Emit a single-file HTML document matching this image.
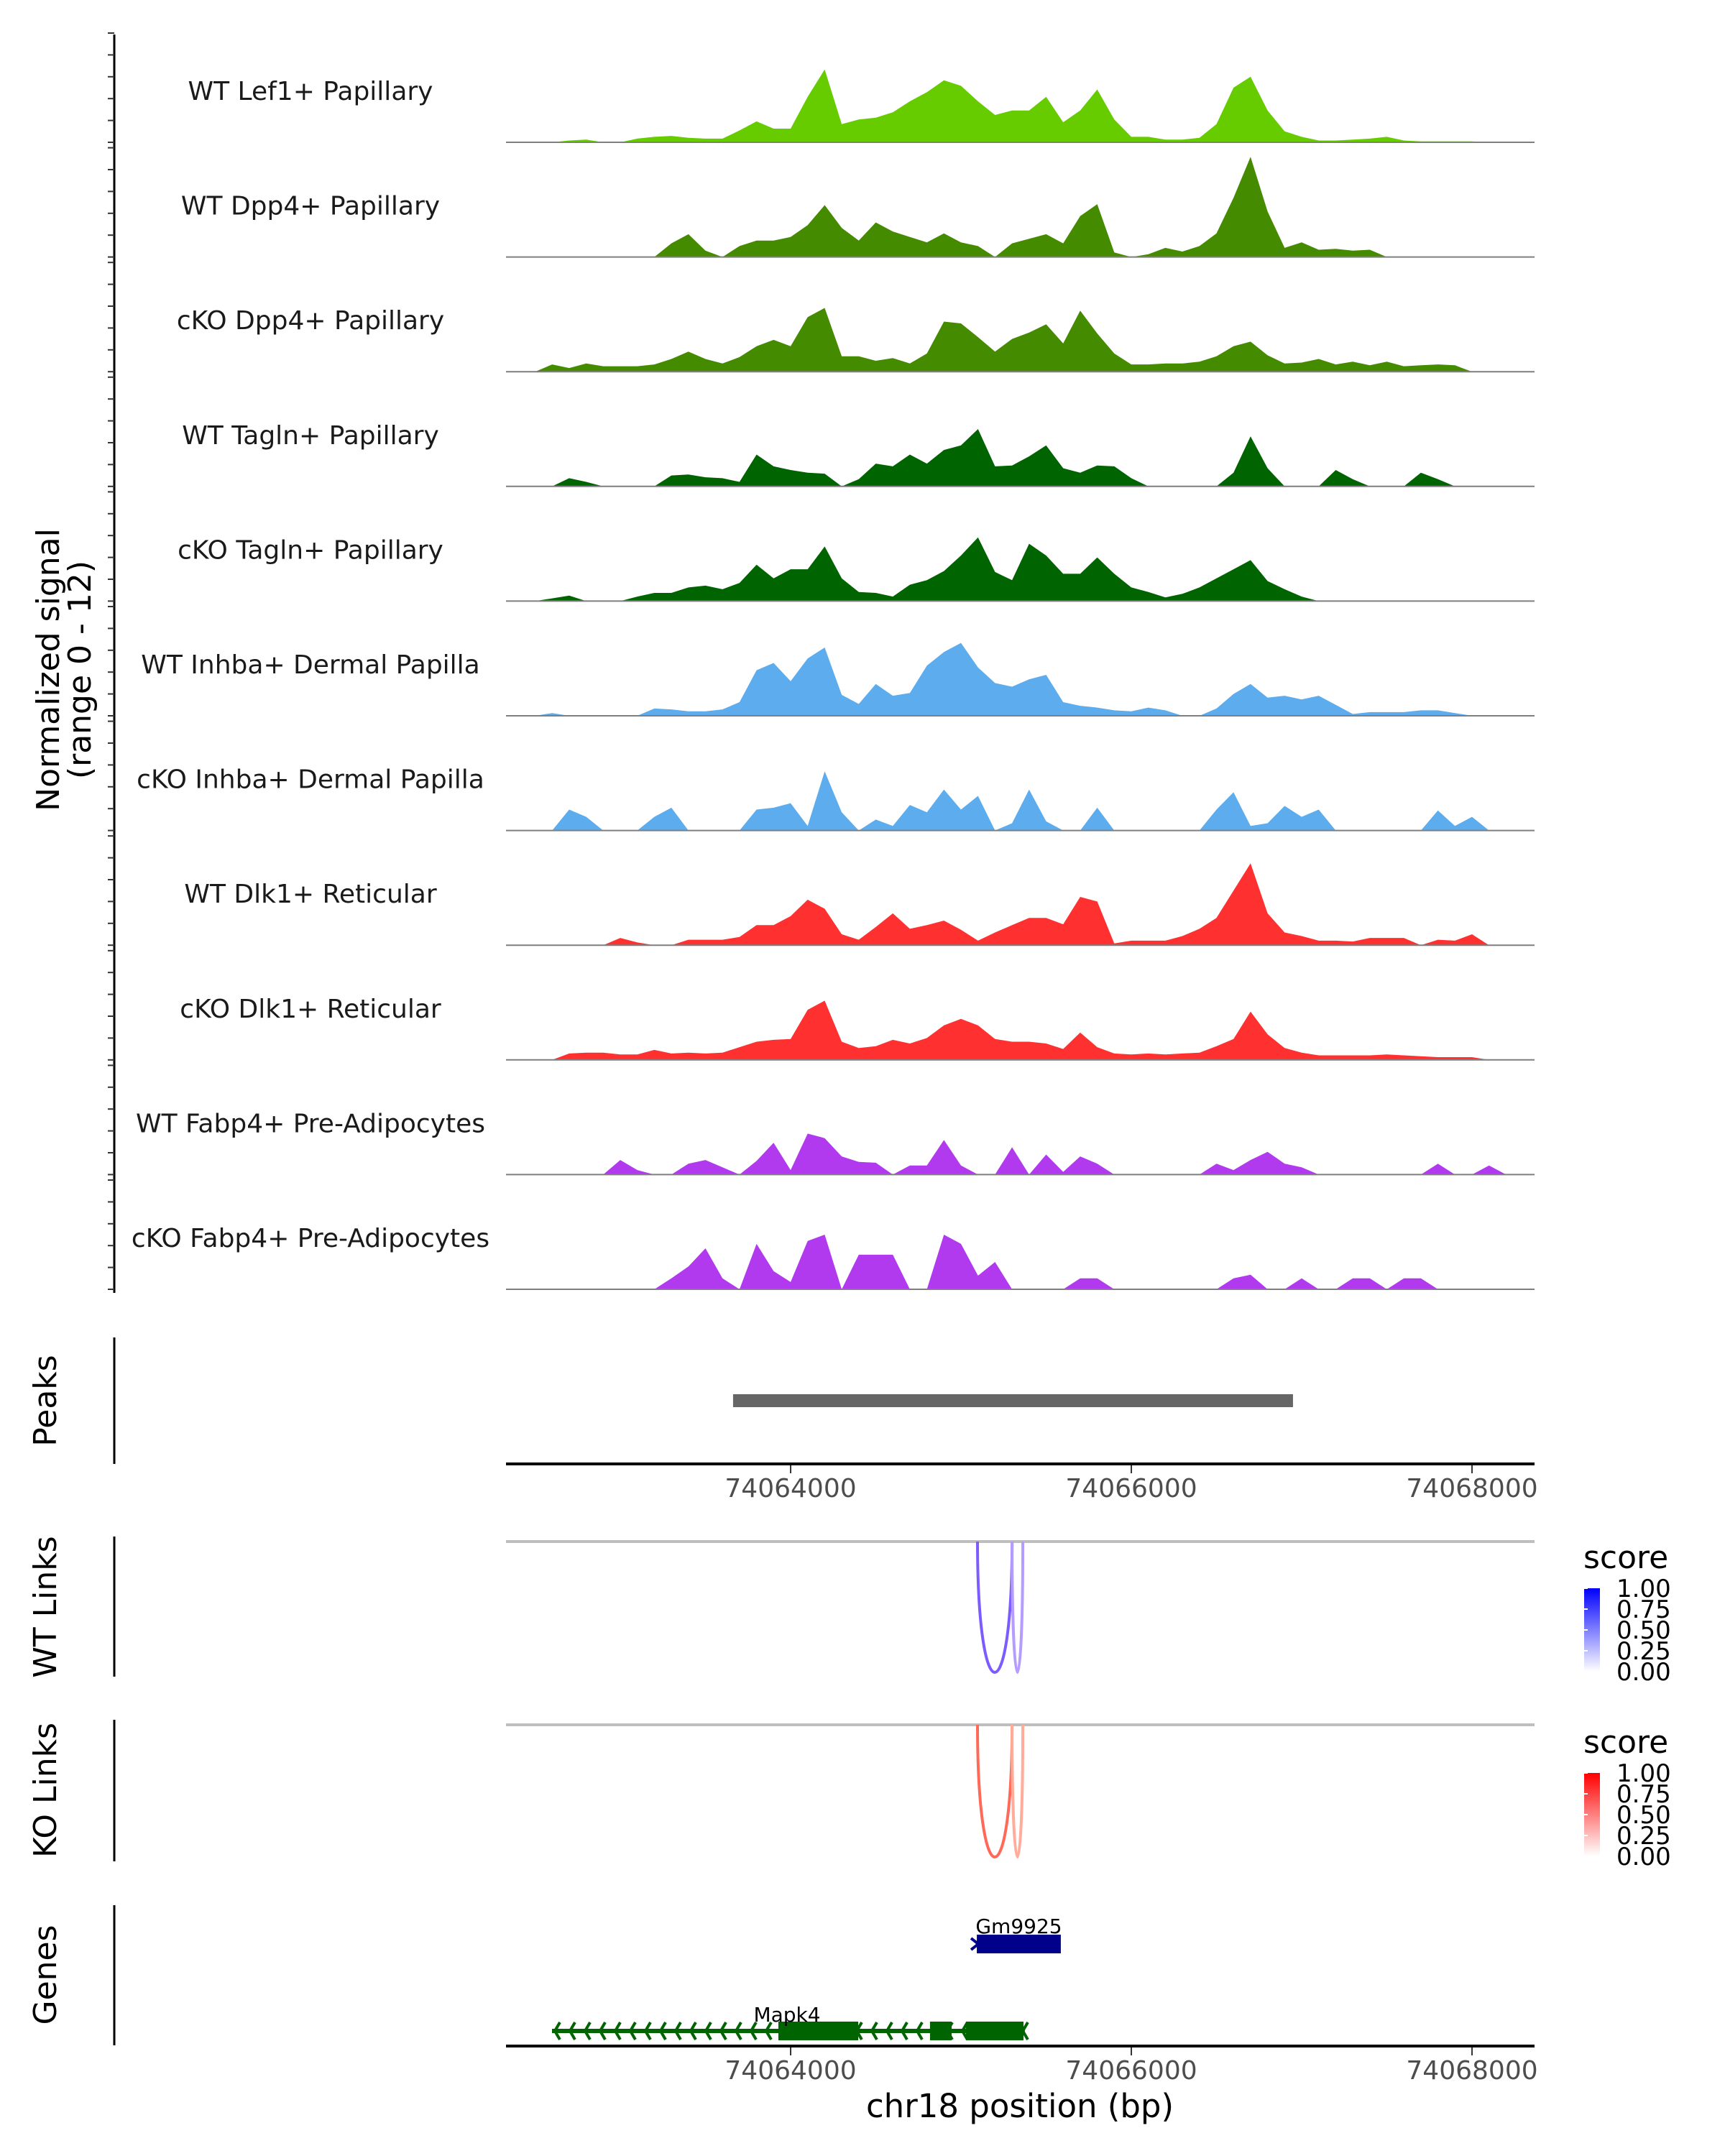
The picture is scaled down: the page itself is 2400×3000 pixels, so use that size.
<!DOCTYPE html>
<html><head><meta charset="utf-8"><title>Coverage plot chr18</title>
<style>
html,body{margin:0;padding:0;background:#fff;}
svg{display:block;font-family:"DejaVu Sans","Liberation Sans",sans-serif;}
</style></head>
<body>
<svg id="chart" xmlns="http://www.w3.org/2000/svg" width="2400" height="3000" viewBox="0 0 2400 3000">
<rect width="2400" height="3000" fill="#fff"/>
<defs><clipPath id="plotclip"><rect x="704" y="0" width="1431" height="3000"/></clipPath>
<linearGradient id="gradBlue" x1="0" y1="0" x2="0" y2="1"><stop offset="0" stop-color="#0000ff"/><stop offset="1" stop-color="#ffffff"/></linearGradient>
<linearGradient id="gradRed" x1="0" y1="0" x2="0" y2="1"><stop offset="0" stop-color="#ff0000"/><stop offset="1" stop-color="#ffffff"/></linearGradient></defs>
<g id="tracks" clip-path="url(#plotclip)"></g>
<g id="ann"></g>
</svg>
<script>
// ---- data ----
const trackNames = ["WT Lef1+ Papillary","WT Dpp4+ Papillary","cKO Dpp4+ Papillary","WT Tagln+ Papillary","cKO Tagln+ Papillary","WT Inhba+ Dermal Papilla","cKO Inhba+ Dermal Papilla","WT Dlk1+ Reticular","cKO Dlk1+ Reticular","WT Fabp4+ Pre-Adipocytes","cKO Fabp4+ Pre-Adipocytes"];
const trackColors = ["#66cc00","#458b00","#458b00","#006400","#006400","#5cacee","#5cacee","#ff3030","#ff3030","#b23aee","#b23aee"];
const binStartBp = 74062300;
const binSizeBp = 100;
const sigLef1WT = [0,0,0,0,0.2,0.3,0,0,0.4,0.6, 0.7,0.5,0.4,0.4,1.3,2.3,1.5,1.5,5,8, 2,2.5,2.7,3.3,4.5,5.5,6.8,6.2,4.5,3, 3.5,3.5,5,2.2,3.5,5.8,2.5,0.6,0.6,0.3, 0.3,0.5,2,6,7.2,3.5,1.2,0.6,0.2,0.2, 0.3,0.4,0.6,0.2,0.1,0.1,0.1,0.1,0,0];
const sigDpp4WT = [0,0,0,0,0,0,0,0,0,0, 1.5,2.5,0.7,0,1.2,1.8,1.8,2.2,3.5,5.7, 3.2,1.8,3.8,2.8,2.2,1.6,2.6,1.6,1.2,0, 1.5,2,2.5,1.5,4.5,5.8,0.5,0,0.3,1, 0.6,1.2,2.6,6.5,11,5,1,1.6,0.8,0.9, 0.7,0.8,0,0,0,0,0,0,0,0];
const sigDpp4KO = [0,0,0,0.8,0.4,0.9,0.6,0.6,0.6,0.8, 1.4,2.2,1.4,0.9,1.6,2.8,3.5,2.8,6,7, 1.7,1.7,1.2,1.5,0.9,2,5.5,5.3,3.8,2.2, 3.6,4.3,5.2,3.1,6.7,4.2,2,0.8,0.8,0.9, 0.9,1.1,1.7,2.8,3.3,1.8,0.9,1,1.4,0.8, 1.1,0.7,1.1,0.6,0.7,0.8,0.7,0,0,0];
const sigTaglnWT = [0,0,0,0,0.9,0.5,0,0,0,0, 1.2,1.3,1,0.9,0.5,3.5,2.2,1.8,1.5,1.4, 0,0.8,2.5,2.2,3.5,2.5,4,4.5,6.3,2.2, 2.3,3.3,4.5,2,1.5,2.3,2.2,0.9,0,0, 0,0,0,1.5,5.5,2,0,0,0,1.8, 0.8,0,0,0,1.5,0.8,0,0,0,0];
const sigTaglnKO = [0,0,0,0.3,0.6,0,0,0,0.5,0.9, 0.9,1.5,1.7,1.3,2,4,2.5,3.5,3.5,6, 2.5,1,0.9,0.5,1.8,2.3,3.3,5,7,3.2, 2.3,6.3,5,3,3,4.8,3,1.5,1,0.4, 0.8,1.5,2.5,3.5,4.5,2.2,1.3,0.5,0,0, 0,0,0,0,0,0,0,0,0,0];
const sigInhbaWT = [0,0,0,0.3,0,0,0,0,0,0.8, 0.7,0.5,0.5,0.7,1.5,5,5.8,3.8,6.3,7.5, 2.3,1.3,3.5,2.2,2.5,5.5,7,8,5.3,3.6, 3.2,4,4.5,1.5,1.1,0.9,0.6,0.5,0.9,0.6, 0,0,0.8,2.4,3.5,2,2.2,1.8,2.2,1.2, 0.2,0.4,0.4,0.4,0.6,0.6,0.3,0,0,0];
const sigInhbaKO = [0,0,0,0,2.3,1.5,0,0,0,1.5, 2.5,0,0,0,0,2.3,2.5,3,0.5,6.5, 2,0,1.2,0.5,2.8,2,4.5,2.3,3.8,0, 0.8,4.5,1,0,0,2.5,0,0,0,0, 0,0,2.3,4.2,0.5,0.8,2.7,1.5,2.3,0, 0,0,0,0,0,2.2,0.5,1.5,0,0];
const sigDlk1WT = [0,0,0,0,0,0,0,0.8,0.3,0, 0,0.6,0.6,0.6,0.9,2.2,2.2,3.2,5,4, 1.2,0.6,2,3.5,1.8,2.2,2.7,1.7,0.5,1.4, 2.2,3,3,2.3,5.3,4.8,0.2,0.5,0.5,0.5, 1,1.8,3,6,9,3.5,1.4,1,0.5,0.5, 0.4,0.8,0.8,0.8,0,0.6,0.5,1.2,0,0];
const sigDlk1KO = [0,0,0,0,0.7,0.8,0.8,0.6,0.6,1.1, 0.7,0.8,0.7,0.8,1.4,2,2.2,2.3,5.5,6.5, 2,1.3,1.5,2.2,1.8,2.4,3.8,4.5,3.8,2.3, 2,2,1.8,1.2,3,1.4,0.7,0.6,0.7,0.6, 0.7,0.8,1.5,2.3,5.3,2.8,1.3,0.8,0.5,0.5, 0.5,0.5,0.6,0.5,0.4,0.3,0.3,0.3,0,0];
const sigFabp4WT = [0,0,0,0,0,0,0,1.6,0.5,0, 0,1.2,1.6,0.8,0,1.5,3.5,0.5,4.5,4, 2,1.4,1.3,0,1,1,3.8,1,0,0, 3,0,2.2,0.3,2,1.2,0,0,0,0, 0,0,1.2,0.5,1.6,2.5,1.2,0.8,0,0, 0,0,0,0,0,1.2,0,0,1,0];
const sigFabp4KO = [0,0,0,0,0,0,0,0,0,0, 1.2,2.5,4.5,1.2,0,5,2,0.8,5.3,6, 0,3.8,3.8,3.8,0,0,6,5,1.5,3, 0,0,0,0,1.2,1.2,0,0,0,0, 0,0,0,1.2,1.6,0,0,1.2,0,0, 1.2,1.2,0,1.2,1.2,0,0,0,0,0];
const allSignals = [sigLef1WT,sigDpp4WT,sigDpp4KO,sigTaglnWT,sigTaglnKO,sigInhbaWT,sigInhbaKO,sigDlk1WT,sigDlk1KO,sigFabp4WT,sigFabp4KO];
const xTickValues = [74064000,74066000,74068000];
const xTickLabels = ["74064000","74066000","74068000"];
const peakStarts = [74063662];
const peakEnds = [74066949];
const wtLinkStarts = [74065097,74065300];
const wtLinkEnds = [74065300,74065363];
const wtLinkScores = [0.75,0.35];
const koLinkStarts = [74065097,74065300];
const koLinkEnds = [74065300,74065363];
const koLinkScores = [0.75,0.3];
const legendLabels = ["1.00","0.75","0.50","0.25","0.00"];
const geneGmStart = 74065093, geneGmEnd = 74065586;
const mapk4Start = 74062599, mapk4End = 74065375;
const mapk4ExonStarts = [74063928,74064818,74065029];
const mapk4ExonEnds = [74064397,74064945,74065367];

// ---- scales ----
const START = 74062329, PX_PER_BP = 0.237, X0 = 704, X1 = 2135;
const xs = bp => X0 + (bp - START) * PX_PER_BP;
const BASE0 = 198, STEP = 159.6, UNIT = 12.67;
const baseline = i => BASE0 + i * STEP;
const ys = (i, v) => baseline(i) - v * UNIT;

const NS = "http://www.w3.org/2000/svg";
function mk(tag, attrs, parent, text){
  const e = document.createElementNS(NS, tag);
  for (const k in attrs) e.setAttribute(k, attrs[k]);
  if (text !== undefined) e.textContent = text;
  parent.appendChild(e);
  return e;
}
const gT = document.getElementById("tracks");
const gA = document.getElementById("ann");

let ax = mk("line",{x1:159,y1:48,x2:159,y2:1799,stroke:"#000","stroke-width":3},gA);


for (let i=0;i<11;i++){
  for (let k=0;k<6;k++){
    const y = baseline(i) - k*30.4;
    const t = mk("line",{x1:150,y1:y,x2:159,y2:y,stroke:"#333","stroke-width":2},gA);
    
    
  }
}
const yt = mk("text",{x:0,y:0,"font-size":44,"text-anchor":"middle",fill:"#000",transform:"translate(82,932) rotate(-90)"},gA);


mk("tspan",{x:0,dy:0},yt,"Normalized signal");
mk("tspan",{x:0,dy:44},yt,"(range 0 - 12)");

allSignals.forEach((sig,i)=>{
  let d = "M" + xs(binStartBp) + "," + baseline(i);
  sig.forEach((v,k)=>{ d += " L" + xs(binStartBp + k*binSizeBp).toFixed(1) + "," + ys(i,v).toFixed(1); });
  d += " L" + xs(binStartBp + (sig.length-1)*binSizeBp) + "," + baseline(i) + " Z";
  const p = mk("path",{d:d,fill:trackColors[i]},gT);
  
  
  const bl = mk("line",{x1:X0,y1:baseline(i),x2:X1,y2:baseline(i),stroke:"#7f7f7f","stroke-width":2},gA);
  
  
  const lb = mk("text",{x:432,y:baseline(i)-59,"font-size":36,"text-anchor":"middle",fill:"#1a1a1a"},gA,trackNames[i]);
  
  
});

function sideLabel(txt, cy, name){
  const t = mk("text",{x:0,y:0,"font-size":44,"text-anchor":"middle",fill:"#000",transform:"translate(78,"+cy+") rotate(-90)"},gA,txt);
  
  
}
function vaxis(y1,y2,name){
  const l = mk("line",{x1:159,y1:y1,x2:159,y2:y2,stroke:"#000","stroke-width":3},gA);
  
  
}
function xaxis(y, name){
  const l = mk("line",{x1:X0,y1:y,x2:X1,y2:y,stroke:"#000","stroke-width":4},gA);
  
  
  xTickValues.forEach((v,j)=>{
    const tk = mk("line",{x1:xs(v),y1:y+2,x2:xs(v),y2:y+13,stroke:"#333","stroke-width":2},gA);
    
    
    const tl = mk("text",{x:xs(v),y:y+46,"font-size":36,"text-anchor":"middle",fill:"#4d4d4d"},gA,xTickLabels[j]);
    
    
  });
}

sideLabel("Peaks",1949,"peaks-axis-title");
vaxis(1861,2037,"peaks-y-axis");
peakStarts.forEach((s,j)=>{
  const r = mk("rect",{x:xs(s),y:1940,width:xs(peakEnds[j])-xs(s),height:18,fill:"#666666"},gA);
  
  
});
xaxis(2037,"peaks-x-axis");

function links(starts, ends, scores, y0, depth, hue, name){
  const g = mk("line",{x1:X0,y1:y0,x2:X1,y2:y0,stroke:"#bebebe","stroke-width":4},gA);
  
  
  starts.forEach((s,j)=>{
    const a = xs(s), b = xs(ends[j]);
    const yc = y0 + depth/0.75;
    const sc = scores[j];
    const col = hue==="blue" ? `rgb(${Math.round(230*(1-sc)+90*sc)},${Math.round(215*(1-sc)+50*sc)},255)` : `rgb(255,${Math.round(215*(1-sc)+70*sc)},${Math.round(200*(1-sc)+50*sc)})`;
    const p = mk("path",{d:`M${a},${y0} C${a},${yc} ${b},${yc} ${b},${y0}`,fill:"none",stroke:col,"stroke-width":4},gA);
    
    
  });
}
sideLabel("WT Links",2236,"wt-links-axis-title");
vaxis(2138,2333,"wt-links-y-axis");
links(wtLinkStarts,wtLinkEnds,wtLinkScores,2145,182,"blue","wt-link");
sideLabel("KO Links",2491,"ko-links-axis-title");
vaxis(2393,2590,"ko-links-y-axis");
links(koLinkStarts,koLinkEnds,koLinkScores,2400,184,"red","ko-link");

function legend(ty, by1, by2, grad, name){
  const t = mk("text",{x:2203,y:ty,"font-size":44,fill:"#000"},gA,"score");
  
  
  const r = mk("rect",{x:2204,y:by1,width:22,height:by2-by1,fill:"url(#"+grad+")"},gA);
  
  
  legendLabels.forEach((lab,j)=>{
    const y = by1 + (by2-by1)*j/4;
    const tk = mk("line",{x1:2204,y1:y,x2:2209,y2:y,stroke:"#fff","stroke-width":2},gA);
    
    
    const tl = mk("text",{x:2249,y:y+12,"font-size":34,fill:"#000"},gA,lab);
    
    
  });
}
legend(2182,2210,2326,"gradBlue","wt-score-legend");
legend(2439,2467,2583,"gradRed","ko-score-legend");

sideLabel("Genes",2748,"genes-axis-title");
vaxis(2651,2846,"genes-y-axis");
const gmR = mk("rect",{x:xs(geneGmStart),y:2692,width:xs(geneGmEnd)-xs(geneGmStart),height:26,fill:"#00008b"},gA);


const gmC = mk("path",{d:`M${xs(geneGmStart)-8},2697 L${xs(geneGmStart)+2},2705 L${xs(geneGmStart)-8},2713`,fill:"none",stroke:"#00008b","stroke-width":4},gA);


const gmL = mk("text",{x:(xs(geneGmStart)+xs(geneGmEnd))/2,y:2690,"font-size":28,"text-anchor":"middle",fill:"#000"},gA,"Gm9925");



const mkLine = mk("line",{x1:xs(mapk4Start),y1:2826,x2:xs(mapk4End),y2:2826,stroke:"#006400","stroke-width":6},gA);


for (let x = xs(mapk4Start)+4; x < xs(mapk4End); x += 21){
  const c = mk("path",{d:`M${x+7},2814 L${x},2826 L${x+7},2838`,fill:"none",stroke:"#006400","stroke-width":4},gA);
  
  
}
mapk4ExonStarts.forEach((s,j)=>{
  const r = mk("rect",{x:xs(s),y:2813,width:xs(mapk4ExonEnds[j])-xs(s),height:26,fill:"#006400"},gA);
  
  
});
const mkL = mk("text",{x:1095,y:2813,"font-size":28,"text-anchor":"middle",fill:"#000"},gA,"Mapk4");



xaxis(2847,"genes-x-axis");
const xt = mk("text",{x:1419,y:2946,"font-size":45,"text-anchor":"middle",fill:"#000"},gA,"chr18 position (bp)");


</script>
</body></html>
